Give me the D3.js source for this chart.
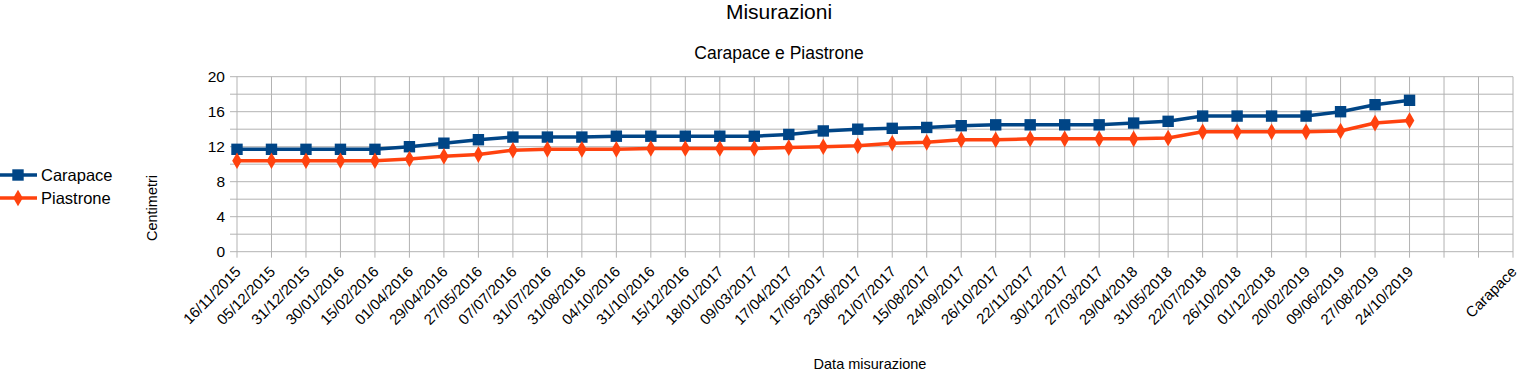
<!DOCTYPE html>
<html>
<head>
<meta charset="utf-8">
<script src="https://cdn.jsdelivr.net/npm/d3@7"></script>
<style>
  body { margin: 0; background: #fff; }
  text { font-family: "Liberation Sans", Arial, sans-serif; fill: #000; }
</style>
</head>
<body>
<svg id="chart" width="1519" height="374"></svg>
<script>
const dates = [
  "16/11/2015", "05/12/2015", "31/12/2015", "30/01/2016", "15/02/2016",
  "01/04/2016", "29/04/2016", "27/05/2016", "07/07/2016", "31/07/2016",
  "31/08/2016", "04/10/2016", "31/10/2016", "15/12/2016", "18/01/2017",
  "09/03/2017", "17/04/2017", "17/05/2017", "23/06/2017", "21/07/2017",
  "15/08/2017", "24/09/2017", "26/10/2017", "22/11/2017", "30/12/2017",
  "27/03/2017", "29/04/2018", "31/05/2018", "22/07/2018", "26/10/2018",
  "01/12/2018", "20/02/2019", "09/06/2019", "27/08/2019", "24/10/2019"
];
// extra empty categories at the end of the axis, as in the original sheet
const extraCategories = ["", "", "Carapace"];
const categories = dates.concat(extraCategories);

const carapace = [
  11.7, 11.7, 11.7, 11.7, 11.7, 12.0, 12.4, 12.8, 13.1, 13.1,
  13.1, 13.2, 13.2, 13.2, 13.2, 13.2, 13.4, 13.8, 14.0, 14.1,
  14.2, 14.4, 14.5, 14.5, 14.5, 14.5, 14.7, 14.9, 15.5, 15.5,
  15.5, 15.5, 16.0, 16.8, 17.3
];
const piastrone = [
  10.4, 10.4, 10.4, 10.4, 10.4, 10.6, 10.9, 11.1, 11.6, 11.7,
  11.7, 11.7, 11.8, 11.8, 11.8, 11.8, 11.9, 12.0, 12.1, 12.4,
  12.5, 12.8, 12.8, 12.9, 12.9, 12.9, 12.9, 13.0, 13.7, 13.7,
  13.7, 13.7, 13.8, 14.7, 15.0
];
const yTicks = [0, 2, 4, 6, 8, 10, 12, 14, 16, 18, 20];

const series = [
  {name: "Carapace", values: carapace, color: "#004586", marker: d3.symbolSquare, size: 130},
  {name: "Piastrone", values: piastrone, color: "#ff420e", marker: d3.symbolDiamond, size: 80}
];

const svg = d3.select("#chart");
const plotLeft = 237, plotRight = 1513, plotTop = 76.7, plotBottom = 251.7;

const x = d3.scalePoint()
  .domain(d3.range(categories.length))
  .range([plotLeft, plotRight])
  .padding(0);

const y = d3.scaleLinear()
  .domain([0, 20])
  .range([plotBottom, plotTop]);

// titles
svg.append("text")
  .attr("x", 779).attr("y", 19)
  .attr("text-anchor", "middle")
  .style("font-size", "21px")
  .text("Misurazioni");

svg.append("text")
  .attr("x", 779).attr("y", 59)
  .attr("text-anchor", "middle")
  .style("font-size", "17.5px")
  .text("Carapace e Piastrone");

// grid
const grid = svg.append("g").attr("class", "grid")
  .attr("stroke", "#b3b3b3")
  .attr("stroke-width", 1);

grid.selectAll("line.h")
  .data(yTicks)
  .enter()
  .append("line")
  .attr("x1", plotLeft - 7)
  .attr("x2", plotRight)
  .attr("y1", d => y(d))
  .attr("y2", d => y(d));

grid.selectAll("line.v")
  .data(d3.range(categories.length))
  .enter()
  .append("line")
  .attr("x1", d => x(d))
  .attr("x2", d => x(d))
  .attr("y1", plotTop)
  .attr("y2", plotBottom + 6);

// y axis labels
svg.append("g")
  .selectAll("text")
  .data(yTicks.filter(d => d % 4 === 0))
  .enter()
  .append("text")
  .attr("x", 225)
  .attr("y", d => y(d))
  .attr("dy", "0.36em")
  .attr("text-anchor", "end")
  .style("font-size", "15.5px")
  .text(d => d);

// x axis labels
svg.append("g")
  .selectAll("text")
  .data(categories)
  .enter()
  .append("text")
  .attr("transform", (d, i) => `translate(${x(i) + 1},269) rotate(-45)`)
  .attr("dy", "0.35em")
  .attr("text-anchor", "end")
  .style("font-size", "15px")
  .text(d => d);

// axis titles
svg.append("text")
  .attr("transform", "translate(157,208) rotate(-90)")
  .attr("text-anchor", "middle")
  .style("font-size", "14.5px")
  .text("Centimetri");

svg.append("text")
  .attr("x", 870).attr("y", 369)
  .attr("text-anchor", "middle")
  .style("font-size", "14.5px")
  .text("Data misurazione");

// lines + markers
const line = d3.line()
  .x((d, i) => x(i))
  .y(d => y(d));

const plot = svg.append("g").attr("class", "series");

series.forEach(s => {
  plot.append("path")
    .datum(s.values)
    .attr("fill", "none")
    .attr("stroke", s.color)
    .attr("stroke-width", 3.5)
    .attr("stroke-linejoin", "round")
    .attr("d", line);

  plot.append("g")
    .selectAll("path")
    .data(s.values)
    .enter()
    .append("path")
    .attr("d", d3.symbol().type(s.marker).size(s.size))
    .attr("transform", (d, i) => `translate(${x(i)},${y(d)})`)
    .attr("fill", s.color);
});

// legend
const legend = svg.append("g")
  .selectAll("g")
  .data(series)
  .enter()
  .append("g")
  .attr("transform", (d, i) => `translate(0,${175 + i * 23})`);

legend.append("line")
  .attr("x1", 0).attr("x2", 37)
  .attr("stroke", d => d.color)
  .attr("stroke-width", 3.5);

legend.append("path")
  .attr("d", d => d3.symbol().type(d.marker).size(d.size)())
  .attr("transform", "translate(18,0)")
  .attr("fill", d => d.color);

legend.append("text")
  .attr("x", 41)
  .attr("dy", "0.36em")
  .style("font-size", "16.5px")
  .text(d => d.name);
</script>
</body>
</html>
